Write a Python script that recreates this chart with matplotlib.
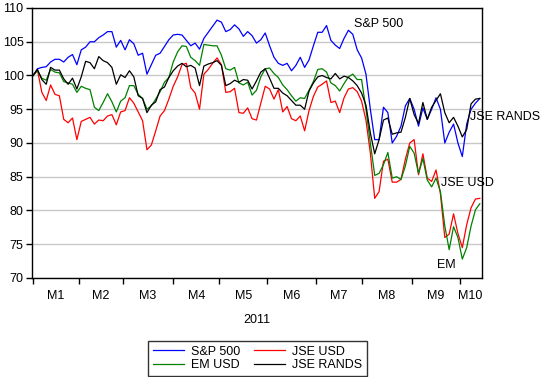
import numpy as np
import pandas as pd
import matplotlib
matplotlib.use("Agg")
import matplotlib.pyplot as plt

plt.rcParams['font.family'] = ['Liberation Sans', 'DejaVu Sans']

# trading days of 2011 shown on the chart, values read every second day
dates = pd.bdate_range("2011-01-03", "2011-10-14")

sp500 = [100, 101, 101.2, 101.3, 102, 102.4, 102.4, 102.0, 102.7, 103.1,
         101.6, 103.8, 104.2, 105, 105, 105.6, 106, 106.5, 106.5, 104.2,
         105.2, 103.8, 105.3, 104.7, 103, 103.3, 100.2, 101.6, 103, 103.3,
         104.3, 105.3, 106, 106.1, 106, 105.2, 104.4, 104.8, 103.9, 105.5,
         106.4, 107.3, 108.2, 107.9, 106.5, 106.8, 107.5, 106.9, 105.8, 106.5,
         105.9, 104.8, 105.3, 106.3, 104.4, 102.7, 101.8, 101.5, 101.8, 100.7,
         101.5, 102.7, 101.2, 102.3, 104.4, 106.4, 106.4, 107.4, 105.2, 104.5,
         104.0, 105.5, 106.7, 106.1, 103.8, 102.6, 100.2, 95, 90.5, 90.5,
         95.3, 94.5, 90, 91, 92.5, 95.5, 96.6, 95, 92.5, 95.2,
         93.5, 95, 96.7, 95, 90, 91.6, 92.8, 90, 88, 92.8,
         95, 95.9, 96.6]

jse_usd = [100, 100.8, 97.5, 96.3, 98.6, 97.2, 97.0, 93.5, 93.0, 93.7,
           90.5, 93.2, 93.5, 93.8, 92.8, 93.4, 93.3, 94.0, 94.2, 92.7,
           94.6, 94.8, 96.7, 95.9, 94.6, 93.3, 89, 89.7, 91.8, 94,
           94.8, 96.5, 98.4, 99.8, 101.6, 101.8, 98.2, 97.4, 95, 100.2,
           100.9, 101.8, 102.6, 101.6, 97.5, 97.6, 98.1, 94.5, 94.4, 95.2,
           93.6, 93.4, 95.9, 98.4, 98, 96.5, 97.9, 94.6, 95.4, 93.6,
           93.3, 94, 91.8, 94.8, 96.9, 98.3, 98.7, 99.2, 96, 96.2,
           94.5, 96.7, 98, 98.2, 97.6, 96.2, 93.4, 88.5, 81.8, 82.8,
           87.3, 87.6, 84.2, 84.2, 84.6, 87.6, 90, 90.5, 85.3, 88.4,
           84.8, 84.3, 86, 82.5, 76, 76.5, 79.5, 76.6, 74.5, 77.9,
           80.4, 81.7, 81.8]

em_usd = [100, 100.7, 99.6, 99.3, 100.9, 100.5, 100.4, 99.1, 98.9, 98.7,
          97.5, 98.4, 98.1, 97.9, 95.3, 94.8, 96, 97.3, 96.1, 94.6,
          96.2, 96.7, 98.5, 98.5, 97.2, 96.6, 95, 95.5, 96.5, 97.6,
          99, 99.7, 102, 103.5, 104.4, 104.3, 102.7, 102.2, 101.5, 104.6,
          104.5, 104.4, 104.4, 103, 101, 100.8, 101.2, 98.9, 98.6, 99,
          97.1, 97.8, 99.8, 101, 101.1, 100.3, 99.7, 98.6, 97.9, 97,
          96.2, 96.7, 96.6, 97.8, 99.1, 100.9, 101, 100.5, 98.9, 98.5,
          97.7, 98.8, 99.8, 100.2, 99.4, 99.4, 95, 90, 85.2, 85.5,
          86.8, 88.6, 84.8, 85, 84.6, 86.6, 89.5, 88.5, 85.5, 87.7,
          84.5, 83.5, 84.8, 82.8, 77.7, 74.2, 77.6, 76, 72.8, 74.5,
          77.7, 80.1, 81]

jse_rands = [100, 100.9, 99.4, 98.7, 101.2, 100.8, 100.8, 99.5, 98.7, 99.6,
             98, 99.8, 102.1, 101.9, 101, 102.8, 102.2, 101.9, 101.2, 98.7,
             100.1, 99.7, 100.7, 99.8, 97, 96.6, 94.5, 95.6, 96.1, 97.9,
             98.3, 99.7, 100.7, 101.4, 101.8, 101.3, 101.5, 101.1, 98.5, 101.4,
             101.7, 101.9, 102.2, 101.5, 98.5, 98.8, 99.3, 99, 99.4, 99.3,
             98, 99.2, 100.5, 101, 99.6, 98.1, 98.1, 97.4, 97, 96.3,
             95.6, 95.6, 95, 97.7, 98.9, 99.8, 100, 99.7, 99.5, 100.3,
             99.5, 99.9, 99.7, 99.2, 98.5, 97.4, 95.6, 91.5, 88.4, 90.5,
             93.4, 93.7, 91.3, 91.5, 91.6, 93.8, 96.6, 94.2, 92.9, 96,
             93.5, 95.3, 96.3, 97.3, 94.5, 93, 93.8, 92.5, 90.9, 92,
             95.8, 96.5, 96.6]

series_names = ["S&P 500", "JSE USD", "EM USD", "JSE RANDS"]
series_colors = ["#0000ff", "#ff0000", "#008000", "#000000"]
month_labels = ["M1", "M2", "M3", "M4", "M5", "M6", "M7", "M8", "M9", "M10"]

obs = np.arange(len(dates))
x = obs[::2]

fig = plt.figure(figsize=(5.43, 3.77), dpi=100)
ax = fig.add_axes([0.0589, 0.2626, 0.8288, 0.7162])

lines = {}
for name, vals, col in zip(series_names, [sp500, jse_usd, em_usd, jse_rands], series_colors):
    lines[name], = ax.plot(x, vals, color=col, lw=0.9)

ax.set_xlim(-0.5, 205)
ax.set_ylim(70, 110)
ax.set_yticks(np.arange(70, 111, 5))
ax.yaxis.grid(True, color="#c8c8c8", lw=1)
ax.set_axisbelow(True)

# month boundaries as ticks, month names in between
month_start = [obs[dates.month == m][0] for m in range(1, 11)]
edges = month_start + [obs[-1]]
mids = [(edges[k] + edges[k + 1]) / 2 for k in range(10)]
ax.set_xticks(month_start)
ax.set_xticklabels([])
ax.set_xticks(mids, minor=True)
ax.set_xticklabels(month_labels, minor=True, fontsize=9)
ax.tick_params(axis="x", which="minor", length=0, pad=9)
ax.tick_params(axis="x", which="major", length=4, direction="out", width=1)
ax.tick_params(axis="y", length=4, direction="out", width=1, labelsize=9, pad=2)
for s in ax.spines.values():
    s.set_linewidth(1)
ax.set_xlabel("2011", fontsize=9, labelpad=8)

ax.text(146.6, 107.6, "S&P 500", fontsize=9, va="center", ha="left")
ax.text(199.5, 93.9, "JSE RANDS", fontsize=9, va="center", ha="left", clip_on=False)
ax.text(186.3, 84.1, "JSE USD", fontsize=9, va="center", ha="left", clip_on=False)
ax.text(184.5, 71.9, "EM", fontsize=9, va="center", ha="left")

leg_order = ["S&P 500", "EM USD", "JSE USD", "JSE RANDS"]
leg = fig.legend([lines[n] for n in leg_order], leg_order, ncol=2,
                 loc="lower center", bbox_to_anchor=(257.5 / 543, 1 / 377),
                 fontsize=9, frameon=True, fancybox=False,
                 handlelength=2.5, handletextpad=0.55, columnspacing=1.1,
                 borderpad=0.4, labelspacing=0.1, borderaxespad=0)
leg.get_frame().set_edgecolor("black")
leg.get_frame().set_linewidth(1)

fig.savefig("out.png", dpi=100)
